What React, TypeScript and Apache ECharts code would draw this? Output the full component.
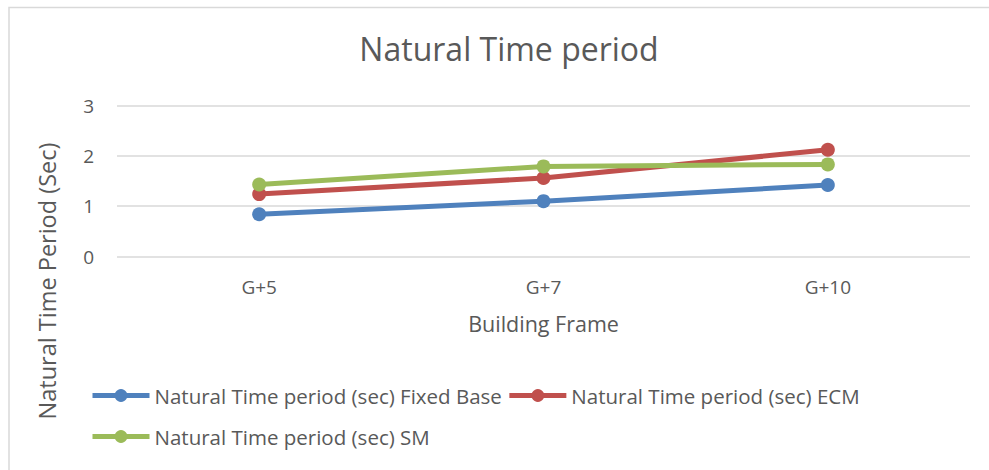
import React, { useEffect, useRef } from "react";
import * as echarts from "echarts";

const categories = ["G+5", "G+7", "G+10"];
const fixedBase = [0.84, 1.1, 1.42];
const ecm = [1.24, 1.56, 2.12];
const sm = [1.43, 1.79, 1.83];
const yTicks = [0, 1, 2, 3];

const seriesNames = [
  "Natural Time period (sec) Fixed Base",
  "Natural Time period (sec) ECM",
  "Natural Time period (sec) SM",
];
const colors = ["#4f81bd", "#c0504d", "#9bbb59"];

const FONT = "'Open Sans', sans-serif";
const TEXT = "#595959";

export default function App() {
  const ref = useRef<HTMLDivElement>(null);
  useEffect(() => {
    if (!ref.current) return;
    const chart = echarts.init(ref.current, undefined, { renderer: "svg" });
    const mk = (name: string, data: number[], color: string) => ({
      name,
      type: "line",
      data,
      symbol: "circle",
      symbolSize: 14,
      lineStyle: { width: 5, color },
      itemStyle: { color },
      z: 3,
    });
    const legendCommon = {
      left: 90,
      padding: 0,
      itemWidth: 57,
      itemHeight: 16,
      itemGap: 5,
      lineStyle: { width: 5 },
      textStyle: { fontFamily: FONT, fontSize: 20.5, color: TEXT },
    };
    chart.setOption({
      animation: false,
      backgroundColor: "#ffffff",
      title: {
        text: "Natural Time period",
        left: 504,
        textAlign: "center",
        top: 27,
        textStyle: { fontFamily: FONT, fontSize: 32, fontWeight: "normal", color: TEXT },
      },
      grid: { left: 117, right: 19, top: 105.5, bottom: 213.5, containLabel: false },
      legend: [
        { ...legendCommon, top: 385, data: [seriesNames[0], seriesNames[1]] },
        { ...legendCommon, top: 426, data: [seriesNames[2]] },
      ],
      xAxis: {
        type: "category",
        data: categories,
        boundaryGap: true,
        axisLine: { show: false },
        axisTick: { show: false },
        axisLabel: { fontFamily: FONT, fontSize: 19, color: TEXT, margin: 21 },
        name: "Building Frame",
        nameLocation: "middle",
        nameGap: 56,
        nameTextStyle: { fontFamily: FONT, fontSize: 21.5, color: TEXT },
      },
      yAxis: {
        type: "value",
        min: yTicks[0],
        max: yTicks[yTicks.length - 1],
        interval: 1,
        axisLine: { show: false },
        axisTick: { show: false },
        axisLabel: { fontFamily: FONT, fontSize: 19, color: TEXT, margin: 23 },
        splitLine: { lineStyle: { color: "#d9d9d9", width: 1.5 } },
      },
      graphic: [
        {
          type: "rect",
          shape: { x: 9, y: 7.5, width: 1200, height: 800 },
          style: { fill: "none", stroke: "#d9d9d9", lineWidth: 1.5 },
          silent: true,
          z: -1,
        },
        {
          type: "text",
          x: 47,
          y: 281,
          rotation: Math.PI / 2,
          style: {
            text: "Natural Time Period (Sec)",
            fontFamily: FONT,
            fontSize: 23.5,
            fill: TEXT,
            textAlign: "center",
            textVerticalAlign: "middle",
          },
        },
      ],
      series: [
        mk(seriesNames[0], fixedBase, colors[0]),
        mk(seriesNames[1], ecm, colors[1]),
        mk(seriesNames[2], sm, colors[2]),
      ],
    });
    return () => chart.dispose();
  }, []);
  return (
    <div
      ref={ref}
      style={{ position: "fixed", left: 0, top: 0, width: 989, height: 470 }}
    />
  );
}
